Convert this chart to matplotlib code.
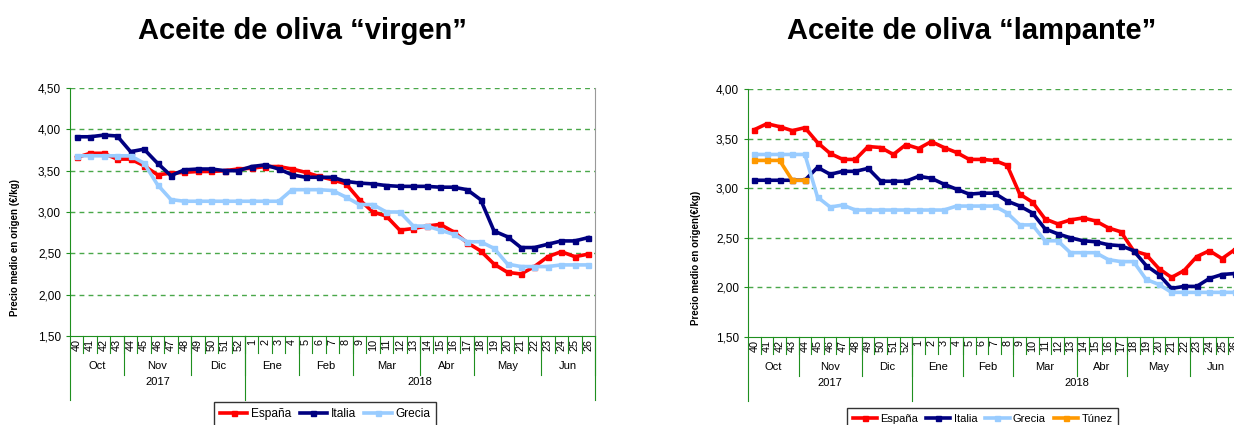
import matplotlib.pyplot as plt
import matplotlib.transforms as mtransforms

plt.rcParams['font.family'] = ['Liberation Sans', 'DejaVu Sans']

weeks = [40, 41, 42, 43, 44, 45, 46, 47, 48, 49, 50, 51, 52,
         1, 2, 3, 4, 5, 6, 7, 8, 9, 10, 11, 12, 13, 14, 15, 16, 17, 18, 19, 20,
         21, 22, 23, 24, 25, 26]
months = ["Oct", "Nov", "Dic", "Ene", "Feb", "Mar", "Abr", "May", "Jun"]
month_weeks = [4, 5, 4, 4, 4, 5, 4, 5, 4]
years = ["2017", "2018"]
year_weeks = [13, 26]

espana_virgen = [3.66, 3.71, 3.71, 3.64, 3.64, 3.56, 3.45, 3.47, 3.48, 3.49, 3.49, 3.50, 3.52,
                 3.53, 3.55, 3.55, 3.52, 3.48, 3.43, 3.39, 3.34, 3.15, 3.00, 2.95, 2.78, 2.80,
                 2.83, 2.85, 2.76, 2.63, 2.53, 2.37, 2.27, 2.25, 2.34, 2.46, 2.52, 2.46, 2.49]
italia_virgen = [3.91, 3.91, 3.93, 3.92, 3.73, 3.76, 3.59, 3.44, 3.51, 3.52, 3.52, 3.50, 3.50,
                 3.55, 3.57, 3.52, 3.45, 3.42, 3.42, 3.42, 3.37, 3.35, 3.34, 3.32, 3.31, 3.31,
                 3.31, 3.30, 3.30, 3.27, 3.15, 2.77, 2.70, 2.57, 2.57, 2.61, 2.65, 2.65, 2.69]
grecia_virgen = [3.68, 3.68, 3.68, 3.68, 3.68, 3.59, 3.33, 3.15, 3.13, 3.13, 3.13, 3.13, 3.13,
                 3.13, 3.13, 3.13, 3.27, 3.27, 3.27, 3.26, 3.18, 3.09, 3.09, 3.00, 3.00, 2.83,
                 2.83, 2.78, 2.73, 2.64, 2.64, 2.56, 2.37, 2.34, 2.34, 2.34, 2.36, 2.36, 2.36]

espana_lampante = [3.59, 3.65, 3.62, 3.58, 3.61, 3.46, 3.35, 3.29, 3.29, 3.42, 3.41, 3.34, 3.44,
                   3.40, 3.47, 3.41, 3.36, 3.29, 3.29, 3.28, 3.23, 2.94, 2.86, 2.69, 2.64, 2.68,
                   2.70, 2.67, 2.60, 2.56, 2.37, 2.33, 2.19, 2.10, 2.17, 2.31, 2.37, 2.29, 2.38]
italia_lampante = [3.08, 3.08, 3.08, 3.08, 3.08, 3.21, 3.14, 3.17, 3.17, 3.20, 3.07, 3.07, 3.07,
                   3.12, 3.10, 3.04, 2.99, 2.94, 2.95, 2.95, 2.87, 2.82, 2.75, 2.59, 2.54, 2.50,
                   2.47, 2.46, 2.43, 2.42, 2.37, 2.22, 2.13, 1.99, 2.01, 2.01, 2.09, 2.13, 2.14]
grecia_lampante = [3.34, 3.34, 3.34, 3.34, 3.34, 2.91, 2.81, 2.83, 2.78, 2.78, 2.78, 2.78, 2.78,
                   2.78, 2.78, 2.78, 2.82, 2.82, 2.82, 2.82, 2.75, 2.63, 2.63, 2.47, 2.47, 2.35,
                   2.35, 2.35, 2.28, 2.26, 2.26, 2.08, 2.03, 1.95, 1.95, 1.95, 1.95, 1.95, 1.95]
tunez_lampante = [3.28, 3.28, 3.28, 3.08, 3.08]

colors = {"España": "#ff0000", "Italia": "#000080", "Grecia": "#99ccff", "Túnez": "#ff9900"}
axis_green = "#1f8f1f"
grid_green = "#4aa84a"

W, H = 1234, 425


def draw_chart(fig, rect, series, yticks, ylabel, ylabel_y):
    ax = fig.add_axes(rect)
    x = list(range(len(weeks)))

    for name, values in series:
        ax.plot(x[:len(values)], values, color=colors[name], lw=2.6, marker="s",
                markersize=3.6, label=name, solid_joinstyle="round", zorder=3)

    ax.set_xlim(-0.5, len(weeks) - 0.5)
    ax.set_ylim(yticks[0], yticks[-1])
    ax.set_yticks(yticks)
    ax.set_yticklabels([f"{v:.2f}".replace(".", ",") for v in yticks], fontsize=8.5)
    for v in yticks[1:]:
        ax.axhline(v, color=grid_green, lw=1, ls=(0, (3.5, 3)), zorder=1)

    ax.spines["top"].set_visible(False)
    ax.spines["right"].set_color("#999999")
    ax.spines["left"].set_color(axis_green)
    ax.spines["bottom"].set_color(axis_green)
    ax.tick_params(axis="y", colors=axis_green, length=3, labelcolor="black")

    # week labels and the three-level category axis
    ax.set_xticks(x)
    ax.set_xticklabels([str(w) for w in weeks], rotation=90, fontsize=7.8)
    ax.tick_params(axis="x", length=0, pad=2)
    trans = mtransforms.blended_transform_factory(ax.transData, ax.transAxes)

    for i in range(1, len(weeks)):
        ax.plot([i - 0.5, i - 0.5], [0, -0.07], color=axis_green, lw=0.8,
                transform=trans, clip_on=False)

    start = 0
    for name, n in zip(months, month_weeks):
        ax.text(start + n / 2 - 0.5, -0.12, name, transform=trans, ha="center",
                va="center", fontsize=8)
        start += n
        ax.plot([start - 0.5, start - 0.5], [0, -0.157], color=axis_green, lw=0.8,
                transform=trans, clip_on=False)

    start = 0
    ax.plot([-0.5, -0.5], [0, -0.258], color=axis_green, lw=0.8,
            transform=trans, clip_on=False)
    for name, n in zip(years, year_weeks):
        ax.text(start + n / 2 - 0.5, -0.185, name, transform=trans, ha="center",
                va="center", fontsize=8)
        start += n
        ax.plot([start - 0.5, start - 0.5], [0, -0.258], color=axis_green, lw=0.8,
                transform=trans, clip_on=False)

    ax.text(-0.105, ylabel_y, ylabel, transform=ax.transAxes, rotation=90,
            ha="center", va="center", fontsize=7, fontweight="bold")
    return ax


fig = plt.figure(figsize=(W / 100, H / 100), dpi=100)

left = draw_chart(fig, [70 / W, 1 - 336 / H, 525 / W, 248 / H],
                  [("España", espana_virgen), ("Italia", italia_virgen),
                   ("Grecia", grecia_virgen)],
                  [1.5, 2.0, 2.5, 3.0, 3.5, 4.0, 4.5],
                  "Precio medio en origen (€/kg)", 0.355)
right = draw_chart(fig, [748 / W, 1 - 337 / H, 493 / W, 248 / H],
                   [("España", espana_lampante), ("Italia", italia_lampante),
                    ("Grecia", grecia_lampante), ("Túnez", tunez_lampante)],
                   [1.5, 2.0, 2.5, 3.0, 3.5, 4.0],
                   "Precio medio en origen(€/kg)", 0.32)

fig.text(302 / W, 1 - 31 / H, "Aceite de oliva “virgen”", ha="center", va="center",
         fontsize=21, fontweight="bold")
fig.text(972 / W, 1 - 31 / H, "Aceite de oliva “lampante”", ha="center", va="center",
         fontsize=21, fontweight="bold")

for ax, x0, y0, fs, hl in [(left, 214, 402, 8.6, 2.3), (right, 847, 408, 8, 2.2)]:
    handles, labels = ax.get_legend_handles_labels()
    fig.legend(handles, labels, loc="upper left", bbox_to_anchor=(x0 / W, 1 - y0 / H),
               ncol=len(labels), fontsize=fs, frameon=True, fancybox=False,
               edgecolor="black", handlelength=hl, handletextpad=0.3,
               columnspacing=0.7, borderpad=0.5, borderaxespad=0)

fig.savefig("out.png", dpi=100)
